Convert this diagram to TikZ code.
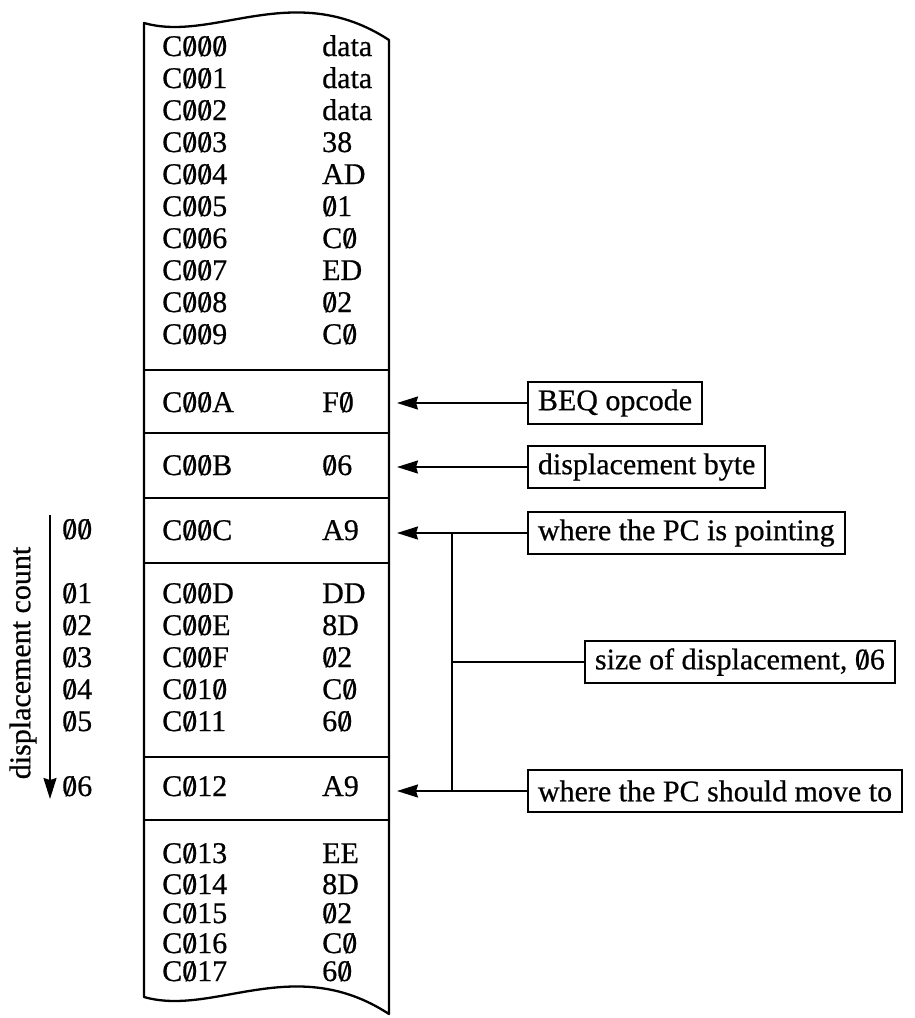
\documentclass[tikz,border=0pt]{standalone}
\usepackage{fontspec}
\setmainfont{Liberation Serif}[FakeBold=0.6]
\usetikzlibrary{arrows.meta}
% zero with a slash through it, as in hexadecimal listings
\newcommand\slz{\ooalign{0\cr\hidewidth/\hidewidth\cr}}
\tikzset{
  mem/.style={line width=2.3pt, line join=round},
  sep/.style={line width=2.2pt},
  cell/.style={anchor=base west, inner sep=0pt},
  note/.style={draw, line width=1.9pt, anchor=west, inner xsep=10pt, inner ysep=0pt,
               minimum height=42pt},
  link/.style={line width=2pt},
  ptr/.style={line width=2pt, -{Stealth[length=21pt,width=13pt,inset=2pt]}}
}
\begin{document}
\begin{tikzpicture}[x=1pt,y=-1pt,font=\fontsize{30}{32}\selectfont]
\useasboundingbox (0,0) rectangle (914,1018);

% memory strip with torn top and bottom edges
\draw[mem] (144,23) .. controls (214,43) and (294,-22) .. (389,40)
  -- (389,1014) .. controls (294,952) and (214,1017) .. (144,997) -- cycle;

% separators between the groups of bytes
\foreach \y in {370,433,498,563,757,820}
  \draw[sep] (144,\y) -- (389,\y);

% address / contents pairs
\foreach \y/\a/\d [count=\i] in {
  46/C\slz\slz\slz/data, 78/C\slz\slz1/data, 110/C\slz\slz2/data,
  142/C\slz\slz3/38, 174/C\slz\slz4/AD, 206/C\slz\slz5/\slz1,
  238/C\slz\slz6/C\slz, 270/C\slz\slz7/ED, 302/C\slz\slz8/\slz2,
  334/C\slz\slz9/C\slz,
  402/C\slz\slz A/F\slz, 465/C\slz\slz B/\slz6, 530/C\slz\slz C/A9,
  593/C\slz\slz D/DD, 625/C\slz\slz E/8D, 657/C\slz\slz F/\slz2,
  689/C\slz1\slz/C\slz, 721/C\slz11/6\slz,
  786/C\slz12/A9,
  853/C\slz13/EE, 884/C\slz14/8D, 913/C\slz15/\slz2,
  943/C\slz16/C\slz, 971/C\slz17/6\slz}
{
  \node[cell] (addr\i) at (162,\y+10) {\a};
  \node[cell] (data\i) at (322,\y+10) {\d};
}

% displacement count on the left
\foreach \y/\c [count=\i] in {529/\slz\slz, 593/\slz1, 625/\slz2, 657/\slz3,
                              689/\slz4, 721/\slz5, 786/\slz6}
  \node[cell] (cnt\i) at (62,\y+10) {\c};
\coordinate (cntTop) at (50,515);
\coordinate (cntEnd) at (50,799);
\draw[ptr] (cntTop) -- (cntEnd);
\node[rotate=90, inner sep=0pt] (cntLabel) at (23,663) {displacement count};

% explanatory notes
\node[note] (beq)   at (527,403) {BEQ opcode};
\node[note] (disp)  at (527,467) {displacement byte};
\node[note] (pc)    at (527,533) {where the PC is pointing};
\node[note] (size)  at (584,662) {size of displacement, \slz6};
\node[note] (dest)  at (527,791) {where the PC should move to};

\coordinate (tipA) at (397,403);
\coordinate (tipB) at (397,467);
\coordinate (tipC) at (397,533);
\coordinate (tipD) at (397,791);
\coordinate (jTop) at (452,533);
\coordinate (jMid) at (452,662);
\coordinate (jBot) at (452,791);

\draw[ptr] (beq.west) -- (tipA);
\draw[ptr] (disp.west) -- (tipB);
\draw[ptr] (pc.west) -- (tipC);
\draw[ptr] (dest.west) -- (tipD);
\draw[link] (jTop) -- (jBot);
\draw[link] (jMid) -- (size.west);
\end{tikzpicture}
\end{document}
